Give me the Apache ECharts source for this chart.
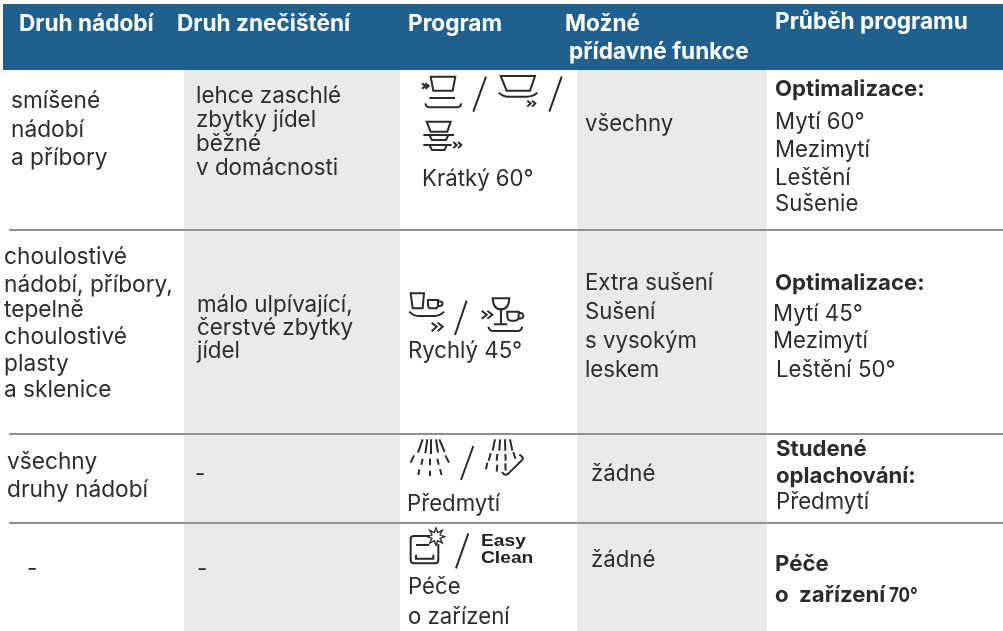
<!DOCTYPE html>
<html>
<head>
<meta charset="utf-8">
<title>Programy</title>
<style>
html, body { margin: 0; padding: 0; background: #fff; }
#main { width: 1003px; height: 631px; }
</style>
<script src="https://cdn.jsdelivr.net/npm/echarts@6/dist/echarts.min.js"></script>
</head>
<body>
<div id="main"></div>
<script>
// texty tabulky
var headers = ["Druh nádobí", "Druh znečištění", "Program", "Možné", "přídavné funkce", "Průběh programu"];
var headerX = [19, 177, 408, 565, 569, 775];
var headerY = [32, 32, 32, 32, 60, 30];

var nadobi = ["smíšené", "nádobí", "a příbory", "choulostivé", "nádobí, příbory,", "tepelně", "choulostivé", "plasty", "a sklenice", "všechny", "druhy nádobí", "-"];
var nadobiX = [11, 11, 11, 4, 4, 4, 4, 4, 4, 7, 7, 27];
var nadobiY = [109, 138, 166, 265, 293, 318, 345, 372, 398, 470, 498, 577];

var znecisteni = ["lehce zaschlé", "zbytky jídel", "běžné", "v domácnosti", "málo ulpívající,", "čerstvé zbytky", "jídel", "-", "-"];
var znecisteniX = [196, 196, 196, 196, 197, 197, 197, 195, 197];
var znecisteniY = [104, 128, 152, 176, 313, 336, 359, 482, 577];

var programy = ["Krátký 60°", "Rychlý 45°", "Předmytí", "Péče", "o zařízení"];
var programyX = [422, 408, 407, 408, 408];
var programyY = [187, 359, 512, 595, 625];

var funkce = ["všechny", "Extra sušení", "Sušení", "s vysokým", "leskem", "žádné", "žádné"];
var funkceX = [585, 585, 585, 585, 585, 591, 591];
var funkceY = [132, 291, 320, 349, 378, 482, 568];

var prubeh = ["Mytí 60°", "Mezimytí", "Leštění", "Sušenie", "Mytí 45°", "Mezimytí", "Leštění 50°", "Předmytí"];
var prubehX = [775, 775, 775, 775, 773, 773, 776, 776];
var prubehY = [130, 158, 186, 212, 322, 349, 378, 510];

var prubehBold = ["Optimalizace:", "Optimalizace:", "Studené", "oplachování:", "Péče", "o  zařízení"];
var prubehBoldX = [775, 775, 776, 776, 775, 775];
var prubehBoldY = [97, 291, 457, 484, 572, 603];

var ruleRows = [230, 434, 523];

var FONT = 'Inter';
var DARK = '#2c2c2e';
var size = 22.2;

// vsechny radky textu do jednoho pole
var lines = [];
function addLines(texts, xs, ys, color, weight, fontSize) {
	for (var i = 0; i < texts.length; i++) {
		lines.push({ text: texts[i], x: xs[i], y: ys[i], color: color, weight: weight, size: fontSize, sx: 1 });
	}
}
addLines(headers, headerX, headerY, '#fff', 'bold', 22.6);
addLines(nadobi, nadobiX, nadobiY, DARK, 'normal', 22.7);
addLines(znecisteni, znecisteniX, znecisteniY, DARK, 'normal', 22.4);
addLines(programy, programyX, programyY, DARK, 'normal', size);
addLines(funkce, funkceX, funkceY, DARK, 'normal', size);
addLines(prubeh, prubehX, prubehY, DARK, 'normal', size);
addLines(prubehBold, prubehBoldX, prubehBoldY, DARK, 'bold', size);
// uzke 70° a logo Easy Clean
lines.push({ text: '70°', x: 889, y: 603, color: DARK, weight: 'bold', size: 20, sx: 0.85 });
lines.push({ text: 'Easy', x: 481, y: 547, color: '#222', weight: 'bold', size: 16, sx: 1.2, font: '"Liberation Sans"' });
lines.push({ text: 'Clean', x: 481, y: 564, color: '#222', weight: 'bold', size: 16, sx: 1.2, font: '"Liberation Sans"' });

// ikony, souradnice v 3x mrizce; treti polozka path, ctvrta sirka cary
var icons = [
	// rada 1
	[410, 70, "M36 40 L46 48 L36 56 M46 40 L56 48 L46 56 M62 20 L136 20 L128 62 L70 62 Z M58 84 L135 84 M46 100 Q48 112 60 112 L140 112 Q152 112 154 100", 6],
	[410, 70, "M190 125 L228 20", 6],
	[410, 70, "M272 18 L375 18 L360 62 L290 62 Z M266 68 Q280 80 295 80 L350 80 Q370 80 382 68 M352 92 L362 100 L352 110 M366 92 L376 100 L366 110", 6],
	[410, 70, "M418 125 L455 20", 6],
	[410, 70, "M50 155 L122 155 L112 185 L62 185 Z M40 195 L132 195 M58 195 L66 210 L108 210 L115 195 M40 225 L125 225 M58 225 L66 240 L104 240 L110 225 M130 216 L140 225 L130 234 M144 216 L154 225 L144 234", 6],
	// rada 2
	[400, 280, "M32 40 L72 40 L68 85 L38 85 Z M84 60 L114 60 L114 74 Q114 85 104 85 L94 85 Q84 85 84 74 Z M114 64 Q128 64 128 71 Q128 78 114 78 M28 95 Q40 108 55 108 L105 108 Q120 108 132 95 M95 128 L110 140 L95 154 M113 128 L128 140 L113 154", 6],
	[400, 280, "M165 165 L200 62", 6],
	[400, 280, "M245 92 L260 104 L245 116 M262 92 L277 104 L262 116 M278 55 L328 55 Q326 88 303 88 Q280 88 278 55 Z M303 88 L303 133 M282 133 L322 133 M322 95 L356 95 L356 108 Q356 122 344 122 L334 122 Q322 122 322 108 Z M356 98 Q370 98 370 108 Q370 116 354 116 M265 140 Q268 153 280 153 L352 153 Q364 153 367 140", 6],
	// rada 3
	[400, 430, "M68 28 L54 68 M82 28 L76 70 M93 28 L93 72 M108 28 L114 68 M118 28 L134 66 M42 76 L32 98 M68 86 L64 104 M90 86 L90 106 M112 86 L116 104 M136 76 L147 98 M58 118 L55 135 M90 122 L90 138 M120 118 L125 135", 6],
	[400, 430, "M183 150 L220 48", 6],
	[400, 430, "M285 28 L278 62 M300 28 L298 62 M315 28 L316 62 M330 28 L337 62 M272 70 L266 92 M292 72 L290 92 M316 72 L317 92 M340 66 L346 86 M262 98 L258 118 M292 104 L290 125 M316 100 L317 122 M306 126 Q316 142 328 128 L368 88 Q372 82 358 74", 6],
	// rada 4
	[400, 430, "M88 318 L42 318 Q32 318 32 328 L32 390 Q32 400 42 400 L105 400 Q115 400 115 390 L115 342 M48 345 L88 345 M48 374 L48 386 L100 386 L100 374", 6],
	[400, 430, "M134 320 L120 325 L127 339 L113 332 L108 346 L103 332 L89 339 L96 325 L82 320 L96 315 L89 301 L103 308 L108 294 L113 308 L127 301 L120 315 Z", 4],
	[400, 430, "M168 415 L205 310", 6]
];

var bandColors = ['#21608d', '#e9ebea', '#e9ebea'];

var myChart = echarts.init(document.getElementById('main'));

var option = {
	animation: false,
	grid: { left: 0, right: 0, top: 0, bottom: 0 },
	xAxis: { type: 'value', min: 0, max: 1003, show: false },
	yAxis: { type: 'value', min: 0, max: 631, inverse: true, show: false },
	series: [{
		type: 'custom', silent: true, z: 1,
		data: [[3, 4, 1003, 70], [184, 70, 400, 631], [577, 70, 767, 631]],
		renderItem: function(params, api) { // obdelnik pres osy
			var a = api.coord([api.value(0), api.value(1)]);
			var b = api.coord([api.value(2), api.value(3)]);
			return { type: 'rect', shape: { x: a[0], y: a[1], width: b[0] - a[0], height: b[1] - a[1] }, style: { fill: bandColors[params.dataIndex] } };
		}
	}, {
		type: 'custom', silent: true, z: 2,
		data: ruleRows.map(function(r) { return [9, r, 1003, r]; }),
		renderItem: function(params, api) {
			var a = api.coord([api.value(0), api.value(1)]);
			var b = api.coord([api.value(2), api.value(3)]);
			return { type: 'line', shape: { x1: a[0], y1: a[1], x2: b[0], y2: b[1] }, style: { stroke: '#8d9094', lineWidth: 2 } };
		}
	}, {
		type: 'custom', silent: true, z: 3,
		data: lines.map(function(l) { return [l.x, l.y]; }),
		renderItem: function(params, api) {
			var l = lines[params.dataIndex];
			var p = api.coord([api.value(0), api.value(1)]);
			return {
				type: 'text', x: p[0], y: p[1] - l.size * 0.36, scaleX: l.sx,
				style: {
					x: 0, y: 0, text: l.text, fill: l.color, verticalAlign: 'middle', align: 'left',
					font: l.weight + ' ' + l.size + 'px ' + (l.font || FONT)
				}
			};
		}
	}, {
		type: 'custom', silent: true, z: 4,
		data: icons.map(function(ic) { return [ic[0], ic[1]]; }),
		renderItem: function(params, api) {
			var ic = icons[params.dataIndex];
			var p = api.coord([api.value(0), api.value(1)]);
			return {
				type: 'path', x: p[0], y: p[1], scaleX: 1 / 3, scaleY: 1 / 3,
				shape: { pathData: ic[2] },
				style: { fill: null, stroke: '#2a2a2a', lineWidth: ic[3] }
			};
		}
	}]
};
myChart.setOption(option);
</script>
</body>
</html>
